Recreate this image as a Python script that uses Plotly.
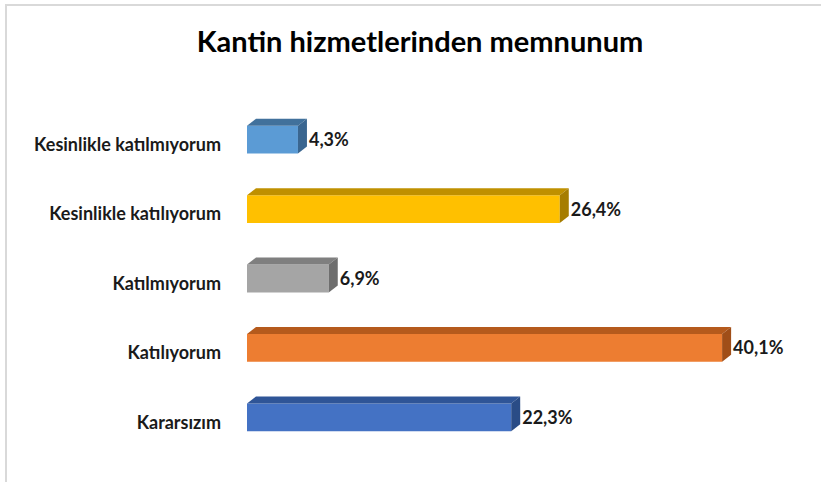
import plotly.graph_objects as go

categories = ["Kararsızım", "Katılıyorum", "Katılmıyorum",
              "Kesinlikle katılıyorum", "Kesinlikle katılmıyorum"]
values = [22.3, 40.1, 6.9, 26.4, 4.3]
front_colors = ["#4472C4", "#ED7D31", "#A5A5A5", "#FFC000", "#5B9BD5"]
top_colors = ["#2F5597", "#B55A1C", "#7F7F7F", "#BF9000", "#41719C"]
side_colors = ["#2A4C86", "#A04E18", "#6E6E6E", "#A67D00", "#3A6690"]
title_text = "Kantin hizmetlerinden memnunum"

W, H = 821, 482
L, R, T, B = 247, 29, 105, 30
XMAX = 46.0
pw = W - L - R
ph = H - T - B
px_x = XMAX / pw           # data units per pixel (x)
px_y = 5.0 / ph            # data units per pixel (y)
bar_w = 0.4
dx = 9 * px_x
dy = 7 * px_y

fig = go.Figure()
ys = list(range(len(categories)))

fig.add_trace(go.Bar(
    x=values, y=ys, orientation="h", width=bar_w,
    marker=dict(color=front_colors, line=dict(width=0)),
    hoverinfo="skip", showlegend=False))

for i, v in enumerate(values):
    y = ys[i]
    yt = y + bar_w / 2
    yb = y - bar_w / 2
    # top face
    fig.add_trace(go.Scatter(
        x=[0, v, v + dx, dx, 0], y=[yt, yt, yt + dy, yt + dy, yt],
        fill="toself", fillcolor=top_colors[i], mode="lines",
        line=dict(width=0, color=top_colors[i]),
        hoverinfo="skip", showlegend=False))
    # side face
    fig.add_trace(go.Scatter(
        x=[v, v, v + dx, v + dx, v], y=[yb, yt, yt + dy, yb + dy, yb],
        fill="toself", fillcolor=side_colors[i], mode="lines",
        line=dict(width=0, color=side_colors[i]),
        hoverinfo="skip", showlegend=False))

fig.add_trace(go.Scatter(
    x=[v + dx + 2 * px_x for v in values], y=[y - 2 * px_y for y in ys], mode="text",
    text=[f"{v:.1f}".replace(".", ",") + "%" for v in values],
    textposition="middle right",
    textfont=dict(family="Lato", size=18, color="#1a1a1a", weight="bold"),
    hoverinfo="skip", showlegend=False))

fig.update_layout(
    width=W, height=H,
    margin=dict(l=L, r=R, t=T, b=B, autoexpand=False),
    paper_bgcolor="white", plot_bgcolor="white",
    title=dict(text=f"<b>{title_text}</b>", x=420 / W, xref="container",
               xanchor="center", y=1 - 42 / H, yref="container", yanchor="middle",
               font=dict(family="Lato", size=29, color="#000000")),
    xaxis=dict(range=[0, XMAX], visible=False, fixedrange=True),
    yaxis=dict(range=[-0.5, 4.5], tickvals=ys, ticktext=categories,
               showgrid=False, zeroline=False, showline=False, ticks="",
               ticklabelstandoff=25, ticklabelshift=5, fixedrange=True,
               tickfont=dict(family="Lato", size=18, color="#1a1a1a", weight="bold")),
    shapes=[
        dict(type="line", xref="paper", yref="paper",
             x0=(5 - L) / pw, x1=(W - L) / pw, y0=1 + (T - 5) / ph, y1=1 + (T - 5) / ph,
             line=dict(color="#D9D9D9", width=2)),
        dict(type="line", xref="paper", yref="paper",
             x0=(6 - L) / pw, x1=(6 - L) / pw, y0=1 + (T - 5) / ph, y1=-B / ph,
             line=dict(color="#D9D9D9", width=2)),
    ],
)

fig.write_html("out.html", post_script="document.body.style.margin='0';",
               config={"displayModeBar": False})
